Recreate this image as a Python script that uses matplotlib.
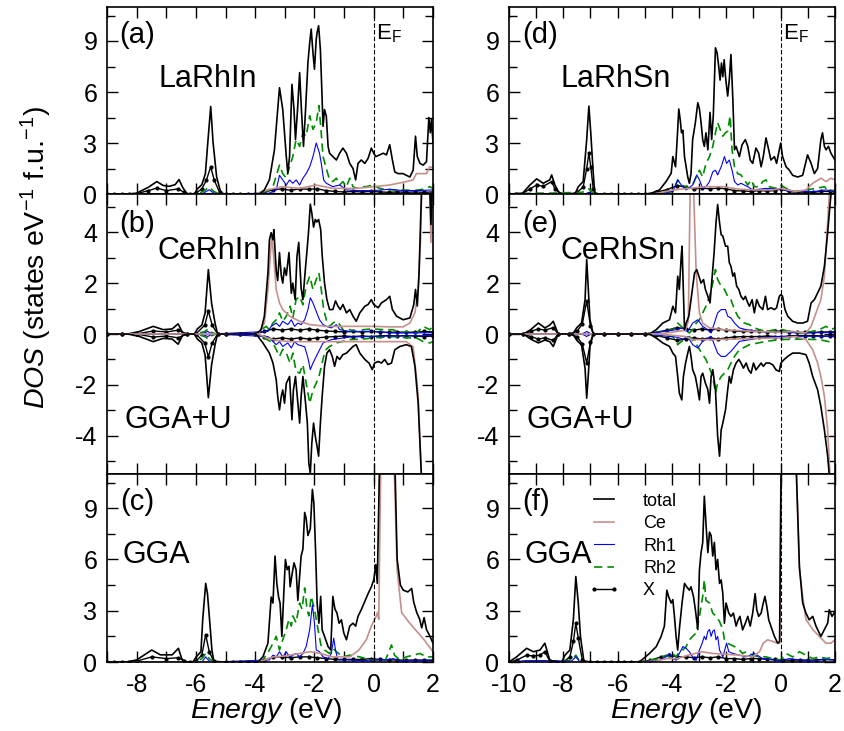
import numpy as np
import matplotlib
matplotlib.use("Agg")
from matplotlib import pyplot as plt
from matplotlib.ticker import MultipleLocator, FuncFormatter

plt.rcParams['font.family'] = ['Liberation Sans', 'DejaVu Sans']
plt.rcParams['mathtext.fontset'] = 'custom'
plt.rcParams['mathtext.rm'] = 'Liberation Sans'
plt.rcParams['mathtext.it'] = 'Liberation Sans:italic'

# ---------------- (a) LaRhIn, GGA : (energy eV, DOS) ----------------
A_TOTAL = [(-9, 0), (-8.3, 0), (-8.0, 0.05), (-7.6, 0.4), (-7.32, 0.73), (-7.1, 0.5), (-6.9, 0.45),
           (-6.7, 0.55), (-6.57, 0.85), (-6.45, 0.4), (-6.3, 0), (-6.05, 0), (-5.95, 0.3), (-5.8, 0.55),
           (-5.68, 1.2), (-5.6, 3.0), (-5.5, 5.15), (-5.42, 3.0), (-5.3, 1.0), (-5.15, 0), (-4.0, 0),
           (-3.86, 0), (-3.69, 0.24), (-3.52, 0.83), (-3.35, 2.6), (-3.24, 4.97), (-3.18, 6.25), (-3.12, 5.56),
           (-3.07, 4.97), (-2.95, 2.2), (-2.9, 1.22), (-2.84, 2.2), (-2.76, 6.45), (-2.69, 4.97), (-2.64, 3.2),
           (-2.57, 4.97), (-2.5, 7.14), (-2.44, 4.97), (-2.37, 2.8), (-2.3, 4.97), (-2.22, 7.73), (-2.16, 8.9),
           (-2.11, 9.7), (-2.05, 8.3), (-2.0, 7.34), (-1.94, 9.1), (-1.91, 9.5), (-1.86, 9.9), (-1.8, 8.5),
           (-1.76, 6.55), (-1.71, 3.98), (-1.66, 4.97), (-1.6, 4.58), (-1.54, 2.8), (-1.49, 2.4), (-1.38, 2.2),
           (-1.26, 2.0), (-1.15, 2.4), (-1.04, 2.7), (-0.92, 2.4), (-0.81, 1.8), (-0.7, 1.5), (-0.61, 0.83),
           (-0.53, 1.8), (-0.42, 2.0), (-0.3, 1.8), (-0.19, 2.1), (-0.08, 2.7), (0.0, 2.4), (0.07, 2.2),
           (0.2, 2.3), (0.32, 2.4), (0.43, 2.3), (0.54, 2.9), (0.63, 2.0), (0.71, 1.3), (0.82, 1.2), (0.99, 1.2),
           (1.1, 1.1), (1.22, 1.0), (1.33, 1.4), (1.41, 3.4), (1.47, 2.2), (1.56, 1.8), (1.67, 1.7), (1.78, 1.9),
           (1.86, 4.5), (1.91, 3.6), (1.95, 4.4), (2.0, 3.0)]
A_CE = [(-9, 0), (-4.0, 0), (-3.6, 0.24), (-3.07, 0.43), (-2.5, 0.33), (-1.94, 0.53), (-1.38, 0.33),
        (-0.59, 0.33), (0.0, 0.43), (0.54, 0.53), (1.1, 0.73), (1.33, 0.83), (1.44, 1.2), (1.78, 1.2),
        (1.89, 1.6), (2.0, 1.55)]
A_RH1 = [(-9, 0), (-5.8, 0), (-5.55, 0.25), (-5.4, 0.05), (-5.2, 0), (-3.52, 0.05), (-3.29, 0.24),
         (-3.18, 1.1), (-3.07, 0.83), (-2.95, 0.53), (-2.84, 0.83), (-2.73, 0.63), (-2.62, 0.83), (-2.5, 0.53),
         (-2.39, 0.93), (-2.28, 1.2), (-2.16, 1.6), (-2.05, 2.2), (-1.94, 3.0), (-1.83, 2.4), (-1.77, 1.8),
         (-1.69, 0.83), (-1.6, 0.63), (-1.38, 0.43), (-1.15, 0.53), (-0.92, 0.24), (-0.59, 0.2), (0.0, 0.2),
         (0.54, 0.28), (0.99, 0.2), (1.44, 0.2), (2.0, 0.24)]
A_RH2 = [(-9, 0), (-6.0, 0), (-5.75, 0.15), (-5.55, 0.42), (-5.4, 0.15), (-5.2, 0), (-4.0, 0), (-3.63, 0.14),
         (-3.4, 0.43), (-3.18, 1.7), (-3.07, 1.2), (-2.95, 0.93), (-2.84, 1.6), (-2.73, 2.2), (-2.62, 3.2),
         (-2.5, 2.8), (-2.39, 3.6), (-2.28, 3.4), (-2.16, 4.6), (-2.05, 3.8), (-1.94, 4.2), (-1.85, 5.2),
         (-1.79, 4.0), (-1.71, 2.2), (-1.6, 1.5), (-1.49, 0.83), (-1.38, 0.73), (-1.26, 0.93), (-1.15, 0.53),
         (-1.04, 0.73), (-0.92, 0.43), (-0.81, 0.93), (-0.7, 0.43), (-0.59, 0.33), (-0.42, 0.43), (-0.25, 0.43),
         (-0.02, 0.53), (0.2, 0.33), (0.43, 0.28), (0.65, 0.24), (0.99, 0.24), (1.33, 0.2), (1.67, 0.28),
         (1.89, 0.43), (2.0, 0.33)]
A_X = [(-9, 0), (-8.75, 0), (-8.5, 0), (-8.25, 0), (-8.0, 0.02), (-7.6, 0.2), (-7.32, 0.35), (-7.0, 0.2),
       (-6.6, 0.3), (-6.4, 0.1), (-6.2, 0), (-6.0, 0.05), (-5.8, 0.3), (-5.65, 0.8), (-5.5, 1.6), (-5.38, 0.8),
       (-5.2, 0.1), (-5.0, 0), (-4.75, 0), (-4.5, 0), (-4.25, 0), (-4.0, 0), (-3.7, 0.1), (-3.4, 0.25),
       (-3.1, 0.3), (-2.8, 0.22), (-2.5, 0.3), (-2.2, 0.28), (-1.9, 0.3), (-1.6, 0.2), (-1.3, 0.15), (-1.0, 0.12),
       (-0.7, 0.15), (-0.4, 0.12), (-0.1, 0.15), (0.2, 0.12), (0.5, 0.1), (0.8, 0.12), (1.1, 0.1), (1.4, 0.12),
       (1.7, 0.1), (2.0, 0.12)]

# ---------------- (b) CeRhIn, GGA+U : spin up / spin down ----------------
B_TOTAL_UP = [(-9, 0), (-8.3, 0), (-7.9, 0.1), (-7.44, 0.3), (-7.1, 0.17), (-6.8, 0.2), (-6.6, 0.4),
              (-6.45, 0.05), (-6.3, 0), (-6.05, 0), (-5.95, 0.2), (-5.8, 0.35), (-5.69, 0.83), (-5.58, 2.53),
              (-5.47, 1.2), (-5.35, 0.4), (-5.27, 0), (-3.97, 0), (-3.8, 0.17), (-3.69, 0.7), (-3.57, 2.4),
              (-3.52, 3.7), (-3.46, 3.98), (-3.4, 3.7), (-3.37, 4.1), (-3.29, 2.5), (-3.24, 2.1), (-3.18, 3.2),
              (-3.12, 2.3), (-3.07, 2.0), (-3.01, 2.6), (-2.95, 2.3), (-2.86, 3.2), (-2.78, 1.6), (-2.73, 2.0),
              (-2.65, 1.35), (-2.59, 3.05), (-2.53, 3.6), (-2.45, 1.8), (-2.39, 1.35), (-2.31, 2.5), (-2.25, 3.3),
              (-2.2, 4.0), (-2.14, 5.1), (-2.09, 4.76), (-2.03, 4.2), (-1.97, 4.5), (-1.92, 4.4), (-1.86, 4.5),
              (-1.79, 4.1), (-1.74, 3.1), (-1.66, 2.0), (-1.58, 1.35), (-1.49, 0.96), (-1.38, 0.96), (-1.29, 1.3),
              (-1.21, 1.1), (-1.13, 0.96), (-1.04, 1.16), (-0.92, 0.83), (-0.81, 0.96), (-0.7, 0.7), (-0.59, 0.5),
              (-0.47, 0.83), (-0.3, 1.09), (-0.19, 1.16), (-0.08, 1.35), (0.0, 1.16), (0.15, 1.03), (0.26, 1.22),
              (0.43, 1.35), (0.54, 1.48), (0.63, 0.96), (0.77, 0.7), (0.99, 0.56), (1.22, 0.63), (1.35, 1.15),
              (1.41, 1.75), (1.47, 1.1), (1.53, 2.4), (1.58, 4.4), (1.62, 5.8), (1.89, 5.8), (1.93, 4.3),
              (1.97, 5.8), (2.0, 5.8)]
B_TOTAL_DN = [(-9, 0), (-8.3, 0), (-7.9, -0.1), (-7.44, -0.3), (-7.1, -0.17), (-6.8, -0.2), (-6.6, -0.4),
              (-6.45, -0.05), (-6.3, 0), (-6.05, 0), (-5.95, -0.2), (-5.8, -0.35), (-5.69, -0.83), (-5.58, -2.5),
              (-5.47, -1.2), (-5.35, -0.4), (-5.27, 0), (-3.97, 0), (-3.74, -0.35), (-3.52, -0.75), (-3.4, -1.14),
              (-3.29, -1.8), (-3.24, -2.45), (-3.18, -2.98), (-3.12, -2.45), (-3.07, -2.2), (-3.01, -2.72),
              (-2.95, -1.94), (-2.84, -1.67), (-2.76, -3.37), (-2.71, -2.2), (-2.64, -1.67), (-2.56, -2.72),
              (-2.5, -3.5), (-2.45, -2.45), (-2.39, -1.67), (-2.3, -2.72), (-2.24, -3.5), (-2.19, -5.08),
              (-2.14, -5.47), (-2.09, -4.3), (-2.03, -3.5), (-1.97, -4.03), (-1.91, -4.43), (-1.86, -4.8),
              (-1.8, -3.5), (-1.74, -2.45), (-1.66, -1.27), (-1.58, -0.75), (-1.49, -0.62), (-1.4, -0.88),
              (-1.32, -1.27), (-1.24, -0.88), (-1.15, -1.0), (-1.04, -0.81), (-0.92, -0.75), (-0.81, -0.62),
              (-0.7, -0.49), (-0.59, -0.42), (-0.47, -0.75), (-0.3, -1.0), (-0.16, -1.14), (-0.05, -1.4),
              (0.03, -1.14), (0.15, -1.08), (0.26, -1.14), (0.37, -1.0), (0.48, -1.2), (0.6, -1.14), (0.71, -0.62),
              (0.88, -0.49), (1.1, -0.42), (1.27, -0.49), (1.39, -1.27), (1.44, -1.93), (1.5, -2.72), (1.56, -4.3),
              (1.61, -5.6), (2.0, -5.6)]
B_CE_UP = [(-9, 0), (-3.9, 0), (-3.69, 0.43), (-3.57, 1.75), (-3.49, 3.06), (-3.44, 3.9), (-3.35, 2.66),
           (-3.29, 1.75), (-3.18, 1.22), (-3.07, 0.96), (-2.84, 0.7), (-2.5, 0.5), (-2.16, 0.37), (-1.6, 0.3),
           (-0.81, 0.3), (0.0, 0.3), (0.54, 0.28), (0.99, 0.28), (1.22, 0.43), (1.39, 0.83), (1.5, 1.75),
           (1.58, 3.7), (1.62, 5.8), (1.89, 5.8), (1.93, 3.6), (1.96, 5.8), (2.0, 5.8)]
B_CE_DN = [(-9, 0), (-3.9, 0), (-3.6, -0.15), (-3.3, -0.25), (-2.8, -0.3), (-2.0, -0.3), (-1.0, -0.3),
           (0.0, -0.3), (0.8, -0.3), (1.1, -0.3), (1.33, -0.5), (1.44, -1.67), (1.5, -2.45), (1.56, -4.2),
           (1.61, -5.6), (2.0, -5.6)]
B_RH1_UP = [(-9, 0), (-5.8, 0), (-5.6, 0.1), (-5.45, 0), (-3.57, 0.1), (-3.46, 0.3), (-3.29, 0.43),
            (-3.18, 0.3), (-3.07, 0.5), (-2.9, 0.37), (-2.78, 0.56), (-2.67, 0.3), (-2.56, 0.43), (-2.45, 0.37),
            (-2.33, 0.56), (-2.22, 0.96), (-2.14, 1.42), (-2.05, 1.22), (-1.94, 0.89), (-1.83, 0.56),
            (-1.71, 0.37), (-1.6, 0.3), (-1.43, 0.24), (-1.26, 0.37), (-1.15, 0.17), (-0.81, 0.1), (0.0, 0.1),
            (0.65, 0.04), (1.44, 0.04), (2.0, 0.06)]
B_RH1_DN = [(-9, 0), (-5.8, 0), (-5.6, -0.1), (-5.45, 0), (-3.57, -0.1), (-3.29, -0.42), (-3.18, -0.3),
            (-3.07, -0.49), (-2.9, -0.35), (-2.78, -0.55), (-2.67, -0.3), (-2.56, -0.42), (-2.33, -0.5),
            (-2.22, -0.94), (-2.14, -1.4), (-2.05, -1.14), (-1.94, -0.88), (-1.71, -0.35), (-1.43, -0.22),
            (-0.81, -0.12), (0.0, -0.09), (2.0, -0.06)]
B_RH2_UP = [(-9, 0), (-6.0, 0), (-5.7, 0.1), (-5.58, 0.2), (-5.45, 0.05), (-5.3, 0), (-4.0, 0), (-3.63, 0.3),
            (-3.52, 0.17), (-3.4, 0.43), (-3.29, 0.56), (-3.18, 0.83), (-3.07, 0.5), (-2.95, 0.7), (-2.82, 1.09),
            (-2.73, 0.63), (-2.62, 1.35), (-2.5, 1.48), (-2.39, 1.15), (-2.28, 1.88), (-2.16, 2.27), (-2.05, 1.75),
            (-1.94, 2.14), (-1.85, 2.4), (-1.77, 1.75), (-1.69, 0.96), (-1.6, 0.56), (-1.49, 0.3), (-1.38, 0.43),
            (-1.26, 0.5), (-1.15, 0.37), (-1.04, 0.17), (-0.81, 0.17), (-0.59, 0.1), (-0.36, 0.17), (-0.02, 0.2),
            (0.32, 0.17), (0.65, 0.17), (0.88, 0.04), (1.1, 0.1), (1.44, 0.04), (1.67, 0.3), (1.89, 0.17),
            (2.0, 0.3)]
B_RH2_DN = [(-9, 0), (-6.0, 0), (-5.7, -0.1), (-5.58, -0.2), (-5.45, -0.05), (-5.3, 0), (-4.0, 0),
            (-3.63, -0.2), (-3.4, -0.35), (-3.18, -0.88), (-3.07, -0.6), (-2.95, -0.75), (-2.82, -1.14),
            (-2.73, -0.75), (-2.62, -1.47), (-2.5, -1.54), (-2.39, -1.2), (-2.28, -1.93), (-2.16, -2.72),
            (-2.05, -2.2), (-1.94, -1.93), (-1.85, -1.67), (-1.77, -1.3), (-1.69, -0.88), (-1.6, -0.6),
            (-1.49, -0.49), (-1.26, -0.35), (-0.81, -0.22), (-0.36, -0.2), (0.0, -0.15), (0.65, -0.1),
            (1.1, -0.15), (1.44, -0.15), (1.67, -0.3), (1.89, -0.35), (2.0, -0.3)]
B_X_UP = [(-9, 0), (-8.5, 0), (-8.0, 0), (-7.44, 0.12), (-7.0, 0.08), (-6.6, 0.15), (-6.3, 0), (-6.0, 0),
          (-5.7, 0.35), (-5.58, 0.9), (-5.45, 0.35), (-5.27, 0), (-5.0, 0), (-4.5, 0), (-4.0, 0), (-3.7, 0.1),
          (-3.4, 0.2), (-3.1, 0.15), (-2.8, 0.2), (-2.5, 0.15), (-2.2, 0.2), (-1.9, 0.15), (-1.6, 0.12),
          (-1.3, 0.1), (-1.0, 0.08), (-0.7, 0.1), (-0.4, 0.08), (-0.1, 0.1), (0.2, 0.08), (0.5, 0.06),
          (0.8, 0.08), (1.1, 0.06), (1.4, 0.08), (1.7, 0.1), (2.0, 0.08)]
B_X_DN = [(-9, 0), (-8.5, 0), (-8.0, 0), (-7.44, -0.12), (-7.0, -0.08), (-6.6, -0.15), (-6.3, 0), (-6.0, 0),
          (-5.7, -0.35), (-5.58, -0.9), (-5.45, -0.35), (-5.27, 0), (-5.0, 0), (-4.5, 0), (-4.0, 0),
          (-3.7, -0.1), (-3.4, -0.2), (-3.1, -0.15), (-2.8, -0.2), (-2.5, -0.15), (-2.2, -0.2), (-1.9, -0.15),
          (-1.6, -0.12), (-1.3, -0.1), (-1.0, -0.08), (-0.7, -0.1), (-0.4, -0.08), (-0.1, -0.1), (0.2, -0.08),
          (0.5, -0.06), (0.8, -0.08), (1.1, -0.06), (1.4, -0.08), (1.7, -0.1), (2.0, -0.08)]

# ---------------- (c) CeRhIn, GGA ----------------
C_TOTAL = [(-9, 0), (-8.34, 0), (-8.0, 0.12), (-7.49, 0.7), (-7.2, 0.42), (-6.8, 0.42), (-6.59, 0.8),
           (-6.48, 0.2), (-6.37, 0), (-6.1, 0), (-5.99, 0.3), (-5.83, 0.6), (-5.77, 2.5), (-5.67, 4.6),
           (-5.61, 4.0), (-5.54, 2.5), (-5.46, 0.7), (-5.39, 0), (-3.91, 0), (-3.74, 0.3), (-3.57, 1.1),
           (-3.46, 3.8), (-3.4, 3.45), (-3.33, 6.2), (-3.27, 4.6), (-3.21, 3.8), (-3.16, 3.45), (-3.1, 1.5),
           (-3.03, 4.2), (-2.98, 6.0), (-2.92, 5.4), (-2.86, 5.6), (-2.82, 4.4), (-2.75, 5.2), (-2.69, 5.8),
           (-2.62, 5.4), (-2.56, 3.6), (-2.45, 6.2), (-2.39, 6.6), (-2.33, 8.75), (-2.28, 8.4), (-2.22, 7.4),
           (-2.14, 7.8), (-2.07, 10.1), (-2.02, 9.3), (-1.96, 6.4), (-1.91, 3.45), (-1.85, 2.27), (-1.79, 3.84),
           (-1.74, 1.88), (-1.66, 1.5), (-1.54, 0.9), (-1.45, 0.7), (-1.38, 3.84), (-1.31, 3.1), (-1.24, 2.86),
           (-1.17, 2.27), (-1.09, 2.47), (-1.01, 1.7), (-0.92, 1.3), (-0.81, 2.1), (-0.7, 2.27), (-0.61, 2.1),
           (-0.53, 2.67), (-0.42, 3.06), (-0.3, 3.55), (-0.19, 4.0), (-0.08, 4.4), (0.0, 4.8), (0.07, 5.7),
           (0.12, 4.6), (0.2, 12.0), (0.71, 12.0), (0.79, 6.0), (0.9, 4.5), (1.0, 4.2), (1.15, 4.1),
           (1.28, 4.3), (1.35, 3.5), (1.45, 2.9), (1.55, 2.5), (1.62, 2.0), (1.7, 2.6), (1.78, 1.9), (1.9, 1.5),
           (2.0, 1.1)]
C_CE = [(-9, 0), (-4.0, 0), (-3.7, 0.1), (-3.4, 0.3), (-3.0, 0.35), (-2.5, 0.5), (-2.16, 0.6), (-1.8, 0.5),
        (-1.4, 0.3), (-0.81, 0.3), (-0.5, 0.7), (-0.25, 1.3), (-0.08, 2.1), (0.09, 2.7), (0.13, 2.9),
        (0.17, 2.5), (0.24, 12.0), (0.68, 12.0), (0.79, 5.4), (0.94, 2.9), (1.2, 2.3), (1.5, 1.7), (1.7, 1.3),
        (2.0, 0.6)]
C_RH1 = [(-9, 0), (-5.8, 0), (-5.67, 0.3), (-5.55, 0.05), (-5.4, 0), (-3.52, 0.12), (-3.4, 0.4), (-3.29, 0.3),
         (-3.18, 0.6), (-3.07, 0.3), (-2.95, 0.6), (-2.84, 0.3), (-2.73, 0.4), (-2.62, 0.5), (-2.5, 0.3),
         (-2.39, 0.5), (-2.28, 0.9), (-2.16, 1.9), (-2.07, 3.35), (-2.0, 2.27), (-1.94, 0.7), (-1.83, 0.6),
         (-1.71, 0.3), (-1.54, 0.2), (-1.43, 0.5), (-1.35, 1.4), (-1.29, 0.7), (-1.21, 0.12), (-0.92, 0.12),
         (-0.36, 0.08), (0.0, 0.12), (0.43, 0.12), (0.65, 0.2), (0.88, 0.08), (2.0, 0.12)]
C_RH2 = [(-9, 0), (-6.0, 0), (-5.8, 0.2), (-5.67, 0.5), (-5.55, 0.2), (-5.4, 0), (-4.0, 0), (-3.74, 0.12),
         (-3.52, 0.7), (-3.4, 1.1), (-3.29, 1.5), (-3.18, 0.7), (-3.07, 1.3), (-2.95, 1.9), (-2.86, 2.5),
         (-2.78, 2.1), (-2.73, 2.7), (-2.62, 2.3), (-2.5, 3.45), (-2.42, 3.1), (-2.33, 4.33), (-2.25, 3.1),
         (-2.19, 2.7), (-2.11, 3.84), (-2.0, 3.1), (-1.88, 1.9), (-1.77, 0.9), (-1.66, 0.7), (-1.49, 0.5),
         (-1.38, 0.8), (-1.26, 0.6), (-1.04, 0.3), (-0.81, 0.4), (-0.47, 0.3), (-0.14, 0.12), (0.09, 0.12),
         (0.4, 0.12), (0.6, 1.0), (0.7, 0.4), (0.88, 0.12), (1.1, 0.3), (1.33, 0.4), (1.56, 0.5), (1.78, 0.3),
         (2.0, 0.3)]
C_X = [(-9, 0), (-8.75, 0), (-8.5, 0), (-8.25, 0), (-8.0, 0.05), (-7.49, 0.3), (-7.0, 0.2), (-6.59, 0.25),
       (-6.4, 0.05), (-6.2, 0), (-6.0, 0.05), (-5.8, 0.4), (-5.67, 1.6), (-5.55, 0.6), (-5.4, 0.05), (-5.0, 0),
       (-4.75, 0), (-4.5, 0), (-4.25, 0), (-4.0, 0), (-3.7, 0.1), (-3.4, 0.3), (-3.1, 0.3), (-2.8, 0.25),
       (-2.5, 0.3), (-2.2, 0.3), (-1.9, 0.25), (-1.6, 0.2), (-1.3, 0.15), (-1.0, 0.15), (-0.7, 0.15),
       (-0.4, 0.15), (-0.1, 0.2), (0.2, 0.15), (0.5, 0.12), (0.8, 0.12), (1.1, 0.1), (1.4, 0.12), (1.7, 0.1),
       (2.0, 0.1)]

# ---------------- (d) LaRhSn, GGA ----------------
D_TOTAL = [(-10, 0), (-9.5, 0.05), (-9.23, 0.53), (-8.98, 0.89), (-8.74, 0.63), (-8.5, 0.83), (-8.43, 1.12),
           (-8.31, 0.53), (-8.18, 0.14), (-8.06, 0), (-7.57, 0), (-7.45, 0.43), (-7.27, 0.73), (-7.14, 3.2),
           (-7.06, 5.17), (-6.99, 3.6), (-6.9, 1.23), (-6.84, 0), (-4.83, 0), (-4.46, 0.24), (-4.22, 0.73),
           (-4.03, 1.22), (-3.97, 2.2), (-3.87, 1.6), (-3.81, 3.2), (-3.75, 5.0), (-3.7, 4.4), (-3.65, 3.6),
           (-3.6, 3.75), (-3.54, 2.2), (-3.48, 1.6), (-3.42, 1.0), (-3.36, 0.63), (-3.3, 1.2), (-3.24, 3.2),
           (-3.14, 4.2), (-3.05, 5.37), (-2.99, 5.0), (-2.93, 4.2), (-2.87, 3.2), (-2.81, 2.8), (-2.75, 3.6),
           (-2.68, 2.6), (-2.6, 4.8), (-2.54, 3.2), (-2.48, 4.6), (-2.4, 8.6), (-2.34, 8.3), (-2.28, 7.5),
           (-2.23, 6.7), (-2.18, 7.7), (-2.13, 6.9), (-2.08, 7.9), (-2.03, 6.9), (-1.99, 6.3), (-1.95, 5.76),
           (-1.89, 6.75), (-1.83, 8.2), (-1.76, 5.56), (-1.7, 2.6), (-1.64, 2.8), (-1.52, 2.2), (-1.42, 2.9),
           (-1.3, 3.2), (-1.21, 2.8), (-1.12, 2.0), (-1.03, 1.8), (-0.91, 2.7), (-0.81, 2.4), (-0.72, 1.6),
           (-0.64, 2.2), (-0.54, 3.3), (-0.44, 2.6), (-0.36, 2.0), (-0.23, 2.2), (-0.15, 1.8), (-0.05, 2.6),
           (0.0, 3.0), (0.07, 2.2), (0.2, 1.6), (0.32, 1.4), (0.44, 1.1), (0.63, 1.0), (0.81, 1.1), (0.99, 2.3),
           (1.12, 1.8), (1.24, 1.2), (1.36, 1.5), (1.48, 3.2), (1.54, 3.6), (1.61, 2.8), (1.67, 2.6), (1.76, 2.8),
           (1.85, 2.4), (2.0, 2.0)]
D_CE = [(-10, 0), (-5.0, 0), (-4.5, 0.05), (-3.97, 0.24), (-3.36, 0.33), (-2.75, 0.43), (-2.13, 0.43),
        (-1.52, 0.28), (-0.91, 0.24), (-0.3, 0.24), (0.0, 0.33), (0.56, 0.14), (0.93, 0.24), (1.18, 0.63),
        (1.48, 0.93), (1.67, 0.73), (1.85, 0.93), (2.0, 0.83)]
D_RH1 = [(-10, 0), (-7.2, 0), (-7.06, 0.1), (-6.9, 0), (-5.0, 0), (-3.97, 0.14), (-3.79, 0.83), (-3.66, 0.53),
         (-3.48, 0.24), (-3.24, 0.53), (-3.09, 1.12), (-2.99, 0.83), (-2.87, 0.33), (-2.75, 0.43), (-2.62, 0.73),
         (-2.5, 1.3), (-2.4, 1.4), (-2.32, 1.12), (-2.19, 1.6), (-2.07, 2.2), (-1.99, 1.8), (-1.89, 2.0),
         (-1.79, 1.4), (-1.7, 0.73), (-1.58, 0.53), (-1.46, 0.63), (-1.34, 0.53), (-1.21, 0.43), (-1.03, 0.24),
         (-0.54, 0.33), (0.0, 0.28), (0.44, 0.14), (1.18, 0.14), (1.67, 0.24), (2.0, 0.14)]
D_RH2 = [(-10, 0), (-9.0, 0.05), (-8.5, 0.05), (-7.3, 0.1), (-7.06, 0.3), (-6.9, 0.05), (-6.8, 0), (-5.0, 0),
         (-4.22, 0.1), (-3.97, 0.14), (-3.79, 0.83), (-3.66, 0.53), (-3.48, 0.43), (-3.36, 0.33), (-3.24, 0.53),
         (-3.11, 1.0), (-2.99, 1.4), (-2.87, 1.0), (-2.75, 1.8), (-2.62, 2.2), (-2.5, 2.8), (-2.4, 3.6),
         (-2.32, 4.2), (-2.23, 3.8), (-2.13, 3.4), (-2.03, 3.6), (-1.95, 3.7), (-1.86, 4.6), (-1.79, 2.6),
         (-1.7, 1.6), (-1.58, 1.2), (-1.46, 1.12), (-1.34, 0.83), (-1.21, 0.53), (-1.09, 0.83), (-0.97, 0.43),
         (-0.78, 0.43), (-0.66, 0.73), (-0.54, 0.83), (-0.42, 0.43), (-0.17, 0.33), (0.0, 0.53), (0.2, 0.33),
         (0.56, 0.14), (0.93, 0.24), (1.3, 0.33), (1.61, 0.43), (1.79, 0.14), (2.0, 0.24)]
D_X = [(-10, 0), (-9.75, 0), (-9.5, 0.02), (-9.23, 0.3), (-8.98, 0.53), (-8.74, 0.45), (-8.43, 0.73),
       (-8.31, 0.3), (-8.1, 0), (-7.75, 0), (-7.5, 0.1), (-7.27, 0.4), (-7.14, 1.5), (-7.06, 2.4), (-6.99, 1.6),
       (-6.9, 0.3), (-6.8, 0), (-6.5, 0), (-6.25, 0), (-6.0, 0), (-5.75, 0), (-5.5, 0), (-5.25, 0), (-5.0, 0),
       (-4.6, 0.1), (-4.2, 0.25), (-3.8, 0.5), (-3.5, 0.4), (-3.2, 0.3), (-2.9, 0.35), (-2.6, 0.3), (-2.3, 0.35),
       (-2.0, 0.3), (-1.7, 0.2), (-1.4, 0.18), (-1.1, 0.15), (-0.8, 0.2), (-0.5, 0.18), (-0.2, 0.2), (0.0, 0.3),
       (0.3, 0.15), (0.6, 0.1), (0.9, 0.12), (1.2, 0.1), (1.5, 0.15), (1.8, 0.15), (2.0, 0.12)]

# ---------------- (e) CeRhSn, GGA+U : spin up / spin down ----------------
E_TOTAL_UP = [(-10, 0), (-9.47, 0), (-9.2, 0.17), (-8.92, 0.43), (-8.68, 0.24), (-8.5, 0.35), (-8.37, 0.5),
              (-8.19, 0), (-7.65, 0), (-7.51, 0.24), (-7.33, 0.43), (-7.2, 1.35), (-7.14, 2.93), (-7.08, 1.75),
              (-7.02, 0.56), (-6.9, 0), (-4.83, 0), (-4.58, 0.17), (-4.34, 0.43), (-4.09, 0.56), (-3.97, 1.09),
              (-3.87, 0.83), (-3.79, 2.27), (-3.73, 1.75), (-3.66, 3.06), (-3.63, 3.45), (-3.59, 2.0),
              (-3.54, 0.17), (-3.48, 0.43), (-3.38, 0.7), (-3.3, 1.35), (-3.17, 2.4), (-3.09, 2.53), (-3.01, 2.27),
              (-2.93, 2.0), (-2.84, 2.14), (-2.77, 1.75), (-2.68, 1.48), (-2.6, 1.22), (-2.52, 2.27), (-2.45, 3.2),
              (-2.38, 4.37), (-2.32, 5.09), (-2.25, 4.37), (-2.19, 3.9), (-2.13, 3.85), (-2.03, 3.45),
              (-1.95, 3.45), (-1.89, 2.8), (-1.83, 2.66), (-1.76, 2.27), (-1.7, 2.4), (-1.62, 1.88), (-1.54, 1.75),
              (-1.46, 1.48), (-1.37, 1.35), (-1.3, 1.48), (-1.21, 1.22), (-1.15, 1.09), (-1.05, 1.35), (-0.97, 0.83),
              (-0.88, 1.35), (-0.78, 1.09), (-0.66, 0.96), (-0.56, 1.48), (-0.48, 0.96), (-0.36, 1.03),
              (-0.23, 0.96), (-0.15, 1.03), (-0.05, 1.48), (0.01, 1.55), (0.07, 1.48), (0.16, 0.96), (0.26, 0.7),
              (0.44, 0.5), (0.63, 0.43), (0.81, 0.43), (0.99, 0.5), (1.12, 1.22), (1.24, 1.35), (1.36, 1.61),
              (1.48, 1.88), (1.61, 2.66), (1.73, 3.98), (1.81, 5.0), (1.88, 5.8), (2.0, 5.8)]
E_TOTAL_DN = [(-10, 0), (-9.47, 0), (-9.2, -0.2), (-8.92, -0.35), (-8.68, -0.24), (-8.5, -0.3), (-8.37, -0.49),
              (-8.19, 0), (-7.65, 0), (-7.51, -0.24), (-7.33, -0.43), (-7.2, -1.35), (-7.14, -2.52),
              (-7.08, -1.6), (-7.02, -0.5), (-6.9, 0), (-4.83, 0), (-4.58, -0.16), (-4.34, -0.35), (-4.09, -0.49),
              (-3.97, -0.75), (-3.87, -0.88), (-3.79, -1.67), (-3.73, -2.32), (-3.64, -2.59), (-3.58, -1.67),
              (-3.5, -1.14), (-3.42, -0.75), (-3.36, -0.49), (-3.3, -0.88), (-3.24, -1.4), (-3.14, -1.67),
              (-3.05, -2.19), (-2.99, -2.59), (-2.93, -1.67), (-2.87, -1.54), (-2.77, -1.93), (-2.68, -2.19),
              (-2.62, -2.72), (-2.56, -1.67), (-2.5, -1.4), (-2.4, -2.19), (-2.32, -4.01), (-2.25, -4.8),
              (-2.19, -3.77), (-2.13, -3.5), (-2.03, -2.98), (-1.95, -2.19), (-1.89, -1.67), (-1.83, -1.93),
              (-1.74, -1.41), (-1.64, -1.14), (-1.54, -1.0), (-1.46, -1.14), (-1.37, -1.34), (-1.27, -1.14),
              (-1.18, -1.41), (-1.09, -1.54), (-1.0, -1.14), (-0.91, -1.41), (-0.81, -1.27), (-0.72, -1.14),
              (-0.64, -1.27), (-0.54, -1.14), (-0.42, -1.14), (-0.29, -1.21), (-0.17, -1.41), (-0.05, -1.47),
              (0.01, -1.14), (0.13, -1.0), (0.26, -0.88), (0.44, -0.75), (0.69, -0.75), (0.93, -0.81),
              (1.05, -1.14), (1.18, -1.67), (1.36, -2.19), (1.48, -2.85), (1.61, -3.77), (1.73, -4.8),
              (1.81, -5.8), (2.0, -5.8)]
E_CE_UP = [(-10, 0), (-4.5, 0), (-3.8, 0.1), (-3.5, 0.15), (-3.4, 0.5), (-3.33, 5.8), (-3.21, 5.8),
           (-3.11, 2.4), (-2.99, 0.83), (-2.87, 0.43), (-2.62, 0.24), (-2.13, 0.17), (-0.9, 0.1), (0.0, 0.07),
           (0.44, 0.1), (0.93, 0.04), (1.12, 0.3), (1.3, 0.83), (1.48, 1.35), (1.61, 2.27), (1.69, 3.7),
           (1.81, 5.8), (2.0, 5.8)]
E_CE_DN = [(-10, 0), (-4.5, 0), (-3.5, -0.1), (-3.24, -0.22), (-2.5, -0.22), (-1.0, -0.18), (0.0, -0.15),
           (0.56, -0.1), (0.93, -0.22), (1.18, -0.62), (1.36, -1.14), (1.48, -1.67), (1.61, -2.45),
           (1.73, -3.77), (1.81, -5.47), (1.85, -5.8), (2.0, -5.8)]
E_RH1_UP = [(-10, 0), (-7.3, 0), (-7.14, 0.1), (-7.0, 0), (-5.0, 0), (-3.84, 0.17), (-3.6, 0.24), (-3.42, 0.1),
            (-3.24, 0.43), (-3.05, 0.56), (-2.87, 0.3), (-2.68, 0.17), (-2.56, 0.04), (-2.44, 0.43), (-2.32, 0.83),
            (-2.19, 0.96), (-2.03, 0.96), (-1.95, 0.7), (-1.83, 0.63), (-1.7, 0.43), (-1.52, 0.24), (-1.27, 0.17),
            (-0.78, 0.1), (-0.05, 0.07), (0.93, 0.04), (2.0, 0.07)]
E_RH1_DN = [(-10, 0), (-7.3, 0), (-7.14, -0.1), (-7.0, 0), (-5.0, 0), (-3.84, -0.12), (-3.6, -0.2),
            (-3.42, -0.1), (-3.24, -0.42), (-3.05, -0.55), (-2.87, -0.29), (-2.56, -0.09), (-2.32, -0.75),
            (-2.19, -0.88), (-2.03, -0.88), (-1.83, -0.68), (-1.52, -0.29), (-0.78, -0.16), (0.0, -0.09),
            (2.0, -0.09)]
E_RH2_UP = [(-10, 0), (-7.3, 0), (-7.14, 0.1), (-7.0, 0), (-5.0, 0), (-3.97, 0.17), (-3.79, 0.43), (-3.66, 0.3),
            (-3.54, 0.17), (-3.36, 0.04), (-3.24, 0.17), (-3.11, 0.43), (-2.99, 0.56), (-2.87, 0.83), (-2.75, 1.09),
            (-2.62, 1.48), (-2.5, 2.0), (-2.4, 2.53), (-2.32, 2.14), (-2.19, 1.88), (-2.07, 1.75), (-1.95, 1.48),
            (-1.83, 1.35), (-1.7, 0.96), (-1.58, 0.7), (-1.46, 0.56), (-1.34, 0.43), (-1.15, 0.37), (-0.97, 0.24),
            (-0.78, 0.17), (-0.54, 0.1), (-0.05, 0.2), (0.32, 0.1), (0.69, 0.04), (1.18, 0.1), (1.42, 0.17),
            (1.67, 0.3), (1.85, 0.17), (2.0, 0.24)]
E_RH2_DN = [(-10, 0), (-7.3, 0), (-7.14, -0.1), (-7.0, 0), (-5.0, 0), (-3.97, -0.1), (-3.79, -0.42),
            (-3.66, -0.3), (-3.36, -0.1), (-3.11, -0.4), (-2.87, -0.81), (-2.75, -1.0), (-2.62, -1.34),
            (-2.5, -1.67), (-2.4, -2.32), (-2.32, -1.93), (-2.19, -1.67), (-2.07, -1.54), (-1.95, -1.41),
            (-1.83, -1.14), (-1.7, -0.88), (-1.52, -0.62), (-1.15, -0.42), (-0.54, -0.29), (-0.05, -0.22),
            (0.69, -0.2), (1.42, -0.22), (2.0, -0.35)]
E_X_UP = [(-10, 0), (-9.5, 0), (-9.2, 0.1), (-8.92, 0.2), (-8.68, 0.15), (-8.37, 0.25), (-8.19, 0), (-7.8, 0),
          (-7.5, 0.1), (-7.3, 0.4), (-7.14, 1.3), (-7.0, 0.3), (-6.9, 0), (-6.5, 0), (-6.0, 0), (-5.5, 0),
          (-5.0, 0), (-4.6, 0.05), (-4.2, 0.15), (-3.8, 0.25), (-3.5, 0.2), (-3.2, 0.15), (-2.9, 0.2),
          (-2.6, 0.15), (-2.3, 0.2), (-2.0, 0.15), (-1.7, 0.12), (-1.4, 0.1), (-1.1, 0.1), (-0.8, 0.1),
          (-0.5, 0.08), (-0.2, 0.1), (0.0, 0.12), (0.3, 0.08), (0.6, 0.06), (0.9, 0.06), (1.2, 0.06), (1.5, 0.08),
          (1.8, 0.08), (2.0, 0.08)]
E_X_DN = [(-10, 0), (-9.5, 0), (-9.2, -0.1), (-8.92, -0.2), (-8.68, -0.15), (-8.37, -0.25), (-8.19, 0),
          (-7.8, 0), (-7.5, -0.1), (-7.3, -0.4), (-7.14, -1.14), (-7.0, -0.3), (-6.9, 0), (-6.5, 0), (-6.0, 0),
          (-5.5, 0), (-5.0, 0), (-4.6, -0.05), (-4.2, -0.15), (-3.8, -0.25), (-3.5, -0.2), (-3.2, -0.15),
          (-2.9, -0.2), (-2.6, -0.15), (-2.3, -0.2), (-2.0, -0.15), (-1.7, -0.12), (-1.4, -0.1), (-1.1, -0.1),
          (-0.8, -0.1), (-0.5, -0.08), (-0.2, -0.1), (0.0, -0.12), (0.3, -0.08), (0.6, -0.06), (0.9, -0.06),
          (1.2, -0.06), (1.5, -0.08), (1.8, -0.08), (2.0, -0.08)]

# ---------------- (f) CeRhSn, GGA ----------------
F_TOTAL = [(-10, 0), (-9.72, 0.3), (-9.35, 0.8), (-9.1, 0.6), (-8.86, 0.7), (-8.68, 1.1), (-8.5, 0.1),
           (-8.24, 0), (-8.06, 0), (-7.94, 0.4), (-7.76, 0.7), (-7.63, 2.5), (-7.54, 5.0), (-7.45, 3.45),
           (-7.37, 1.5), (-7.24, 0), (-5.2, 0), (-4.83, 0.5), (-4.58, 0.9), (-4.4, 1.5), (-4.28, 2.1), (-4.19, 4.2),
           (-4.12, 3.8), (-4.03, 3.45), (-3.97, 3.65), (-3.91, 2.67), (-3.85, 1.5), (-3.79, 0.7), (-3.73, 1.9),
           (-3.63, 3.45), (-3.54, 4.6), (-3.46, 4.4), (-3.36, 4.2), (-3.3, 4.4), (-3.21, 3.84), (-3.14, 3.06),
           (-3.05, 1.9), (-2.99, 5.4), (-2.93, 6.4), (-2.87, 6.98), (-2.81, 9.7), (-2.75, 8.1), (-2.68, 6.4),
           (-2.62, 7.6), (-2.56, 7.4), (-2.5, 6.2), (-2.44, 7.0), (-2.38, 5.4), (-2.32, 6.0), (-2.25, 4.6),
           (-2.19, 4.8), (-2.13, 4.0), (-2.07, 2.27), (-2.01, 3.45), (-1.91, 2.86), (-1.83, 2.67), (-1.74, 2.86),
           (-1.64, 2.1), (-1.58, 2.4), (-1.5, 2.67), (-1.4, 1.88), (-1.3, 2.27), (-1.21, 2.67), (-1.12, 2.1),
           (-1.03, 2.86), (-0.94, 4.0), (-0.88, 3.06), (-0.81, 2.67), (-0.72, 2.86), (-0.64, 3.45), (-0.58, 3.84),
           (-0.51, 3.25), (-0.44, 2.47), (-0.36, 2.1), (-0.23, 1.5), (-0.11, 1.1), (-0.04, 1.2), (0.02, 12.0),
           (0.56, 12.0), (0.69, 5.6), (0.81, 3.45), (0.93, 2.86), (1.05, 2.47), (1.18, 2.67), (1.3, 2.1),
           (1.48, 1.5), (1.61, 1.9), (1.73, 2.27), (1.79, 3.06), (1.89, 2.67), (2.0, 2.95)]
F_CE = [(-10, 0), (-5.2, 0), (-4.6, 0.05), (-4.2, 0.2), (-3.8, 0.2), (-3.4, 0.4), (-2.9, 0.6), (-2.5, 0.5),
        (-2.0, 0.45), (-1.5, 0.4), (-1.03, 0.3), (-0.78, 0.6), (-0.64, 1.1), (-0.48, 1.3), (-0.29, 1.2),
        (-0.11, 1.1), (-0.03, 1.1), (0.01, 12.0), (0.56, 12.0), (0.69, 5.4), (0.81, 3.84), (0.93, 2.5),
        (1.18, 1.9), (1.42, 1.5), (1.67, 1.1), (1.85, 1.1), (2.0, 1.3)]
F_RH1 = [(-10, 0), (-9.35, 0.08), (-8.68, 0.08), (-7.7, 0.05), (-7.54, 0.3), (-7.4, 0.02), (-7.24, 0),
         (-5.2, 0), (-4.46, 0.1), (-4.22, 0.3), (-4.09, 0.5), (-3.97, 0.2), (-3.85, 0.1), (-3.73, 0.5),
         (-3.6, 0.9), (-3.48, 0.8), (-3.36, 0.6), (-3.24, 0.3), (-3.11, 0.1), (-2.99, 0.7), (-2.89, 1.1),
         (-2.81, 1.5), (-2.75, 1.3), (-2.68, 1.8), (-2.62, 1.9), (-2.56, 1.5), (-2.5, 1.8), (-2.44, 1.88),
         (-2.38, 1.3), (-2.32, 1.5), (-2.25, 0.7), (-2.13, 0.3), (-1.99, 1.1), (-1.91, 0.6), (-1.76, 0.5),
         (-1.52, 0.4), (-1.27, 0.3), (-0.97, 0.5), (-0.66, 0.2), (-0.29, 0.12), (-0.01, 0.08), (0.32, 0.2),
         (0.69, 0.12), (1.18, 0.08), (1.67, 0.15), (2.0, 0.12)]
F_RH2 = [(-10, 0), (-9.35, 0.03), (-8.68, 0.05), (-7.7, 0.1), (-7.54, 0.4), (-7.4, 0.05), (-7.24, 0),
         (-5.2, 0), (-4.46, 0.2), (-4.22, 0.4), (-4.09, 0.3), (-3.97, 0.5), (-3.85, 0.3), (-3.73, 0.6),
         (-3.6, 0.7), (-3.48, 0.9), (-3.36, 1.3), (-3.24, 1.5), (-3.11, 1.7), (-2.99, 2.67), (-2.87, 3.84),
         (-2.81, 4.8), (-2.75, 3.6), (-2.62, 3.45), (-2.5, 2.86), (-2.38, 2.67), (-2.25, 2.37), (-2.13, 1.9),
         (-2.07, 1.3), (-1.95, 1.1), (-1.83, 1.0), (-1.7, 0.9), (-1.52, 0.7), (-1.4, 0.5), (-1.27, 0.6),
         (-1.03, 0.4), (-0.78, 0.3), (-0.54, 0.3), (-0.29, 0.2), (-0.01, 0.12), (0.2, 0.5), (0.44, 0.3),
         (0.69, 0.6), (0.93, 0.4), (1.18, 0.2), (1.42, 0.3), (1.67, 0.2), (2.0, 0.3)]
F_X = [(-10, 0), (-9.72, 0.1), (-9.35, 0.4), (-9.1, 0.35), (-8.86, 0.4), (-8.68, 0.6), (-8.5, 0.05),
       (-8.25, 0), (-8.0, 0), (-7.76, 0.3), (-7.63, 1.2), (-7.54, 2.27), (-7.45, 1.4), (-7.3, 0.1), (-7.0, 0),
       (-6.75, 0), (-6.5, 0), (-6.25, 0), (-6.0, 0), (-5.75, 0), (-5.5, 0), (-5.2, 0), (-4.8, 0.1), (-4.4, 0.3),
       (-4.1, 0.4), (-3.8, 0.3), (-3.5, 0.3), (-3.2, 0.25), (-2.9, 0.3), (-2.6, 0.25), (-2.3, 0.3), (-2.0, 0.2),
       (-1.7, 0.2), (-1.4, 0.15), (-1.1, 0.2), (-0.8, 0.2), (-0.5, 0.15), (-0.2, 0.15), (0.1, 0.12), (0.4, 0.1),
       (0.7, 0.12), (1.0, 0.1), (1.3, 0.12), (1.6, 0.15), (2.0, 0.12)]

SPECIES = ['total', 'Ce', 'Rh1', 'Rh2', 'X']

C_TOT = 'black'
C_CE_COL = '#c4908c'
C_RH1_COL = '#0000ff'
C_RH2_COL = '#008c00'

W, H = 845, 731
fig = plt.figure(figsize=(W / 100, H / 100), dpi=100)


def px_ax(x0, y0, x1, y1):
    # pixel box (top-left origin) -> figure axes
    return fig.add_axes([x0 / W, 1 - y1 / H, (x1 - x0) / W, (y1 - y0) / H])


def txt(x, y, s, size, **kw):
    fig.text(x / W, 1 - y / H, s, fontsize=size, **kw)


def curve(ax, pts, **kw):
    a = np.asarray(pts, float)
    return ax.plot(a[:, 0], a[:, 1], **kw)[0]


def draw(ax, total, ce, rh1, rh2, x):
    hx = curve(ax, x, color=C_TOT, lw=1.0, marker='o', ms=2.0)
    h2 = curve(ax, rh2, color=C_RH2_COL, lw=1.2, dashes=(5, 3))
    h1 = curve(ax, rh1, color=C_RH1_COL, lw=0.8)
    hc = curve(ax, ce, color=C_CE_COL, lw=1.2)
    ht = curve(ax, total, color=C_TOT, lw=1.2)
    return [ht, hc, h1, h2, hx]


def style(ax, xlim, ylim, ymaj, ymin, xlabels):
    ax.set_xlim(*xlim)
    ax.set_ylim(*ylim)
    ax.xaxis.set_major_locator(MultipleLocator(2))
    ax.xaxis.set_minor_locator(MultipleLocator(1))
    ax.yaxis.set_major_locator(MultipleLocator(ymaj))
    ax.yaxis.set_minor_locator(MultipleLocator(ymin))
    ax.tick_params(which='both', direction='in', top=True, right=True, width=1.0, labelsize=18)
    ax.tick_params(which='major', length=8)
    ax.tick_params(which='minor', length=6)
    ax.tick_params(axis='x', which='minor', length=8)
    ax.tick_params(axis='y', pad=7)
    ax.tick_params(axis='x', pad=8)
    if not xlabels:
        ax.tick_params(axis='x', labelbottom=False)
    for s in ax.spines.values():
        s.set_linewidth(1.2)
    ax.axvline(0, color='black', lw=0.8, dashes=(4, 2))
    ax.yaxis.set_major_formatter(FuncFormatter(lambda v, p: f"{v:g}"))
    ax.xaxis.set_major_formatter(FuncFormatter(lambda v, p: f"{v:g}"))


rows = [(7, 194), (194, 474), (474, 662)]
cols = [(107, 433, (-9, 2)), (509, 835, (-10, 2))]

panels = [
    [(A_TOTAL, A_CE, A_RH1, A_RH2, A_X), None, (C_TOTAL, C_CE, C_RH1, C_RH2, C_X)],
    [(D_TOTAL, D_CE, D_RH1, D_RH2, D_X), None, (F_TOTAL, F_CE, F_RH1, F_RH2, F_X)],
]
spin = [
    ((B_TOTAL_UP, B_CE_UP, B_RH1_UP, B_RH2_UP, B_X_UP), (B_TOTAL_DN, B_CE_DN, B_RH1_DN, B_RH2_DN, B_X_DN)),
    ((E_TOTAL_UP, E_CE_UP, E_RH1_UP, E_RH2_UP, E_X_UP), (E_TOTAL_DN, E_CE_DN, E_RH1_DN, E_RH2_DN, E_X_DN)),
]

legend_handles = None
for ci, (x0, x1, xlim) in enumerate(cols):
    for ri, (y0, y1) in enumerate(rows):
        ax = px_ax(x0, y0, x1, y1)
        if ri == 1:
            up, dn = spin[ci]
            draw(ax, *up)
            draw(ax, *dn)
            style(ax, xlim, (-5.5, 5.5), 2, 1, False)
        else:
            hs = draw(ax, *panels[ci][ri])
            style(ax, xlim, (0, 11), 3, 1.5, ri == 2)
            if ci == 1 and ri == 2:
                legend_handles = hs
                f_ax = ax

f_ax.legend(legend_handles, SPECIES, loc='upper left', bbox_to_anchor=(0.245, 0.9), frameon=False,
            fontsize=13, handlelength=1.7, handletextpad=1.3, labelspacing=0.3, numpoints=2,
            borderaxespad=0, borderpad=0)

# panel tags and compound / method labels
for xx, yy, s in [(119, 43, '(a)'), (119, 232, '(b)'), (120, 510, '(c)'),
                  (522, 43, '(d)'), (522, 232, '(e)'), (522, 510, '(f)')]:
    txt(xx, yy, s, 21, va='baseline')
for xx, yy, s in [(159, 87, 'LaRhIn'), (158, 259, 'CeRhIn'), (125, 428, 'GGA+U'), (123, 563, 'GGA'),
                  (561, 87, 'LaRhSn'), (561, 259, 'CeRhSn'), (527, 428, 'GGA+U'), (525, 563, 'GGA')]:
    txt(xx, yy, s, 22, va='baseline')
txt(376, 39, r'E$_{\mathrm{F}}$', 16, va='baseline')
txt(783, 39, r'E$_{\mathrm{F}}$', 16, va='baseline')

txt(190, 718, r'$\mathit{Energy}$ (eV)', 20.5, va='baseline')
txt(610, 718, r'$\mathit{Energy}$ (eV)', 20.5, va='baseline')
txt(36, 258, r'$\mathit{DOS}$ (states eV$^{-1}$ f.u.$^{-1}$)', 20.5, rotation=90, ha='center', va='center')

fig.savefig('out.png', dpi=100)
